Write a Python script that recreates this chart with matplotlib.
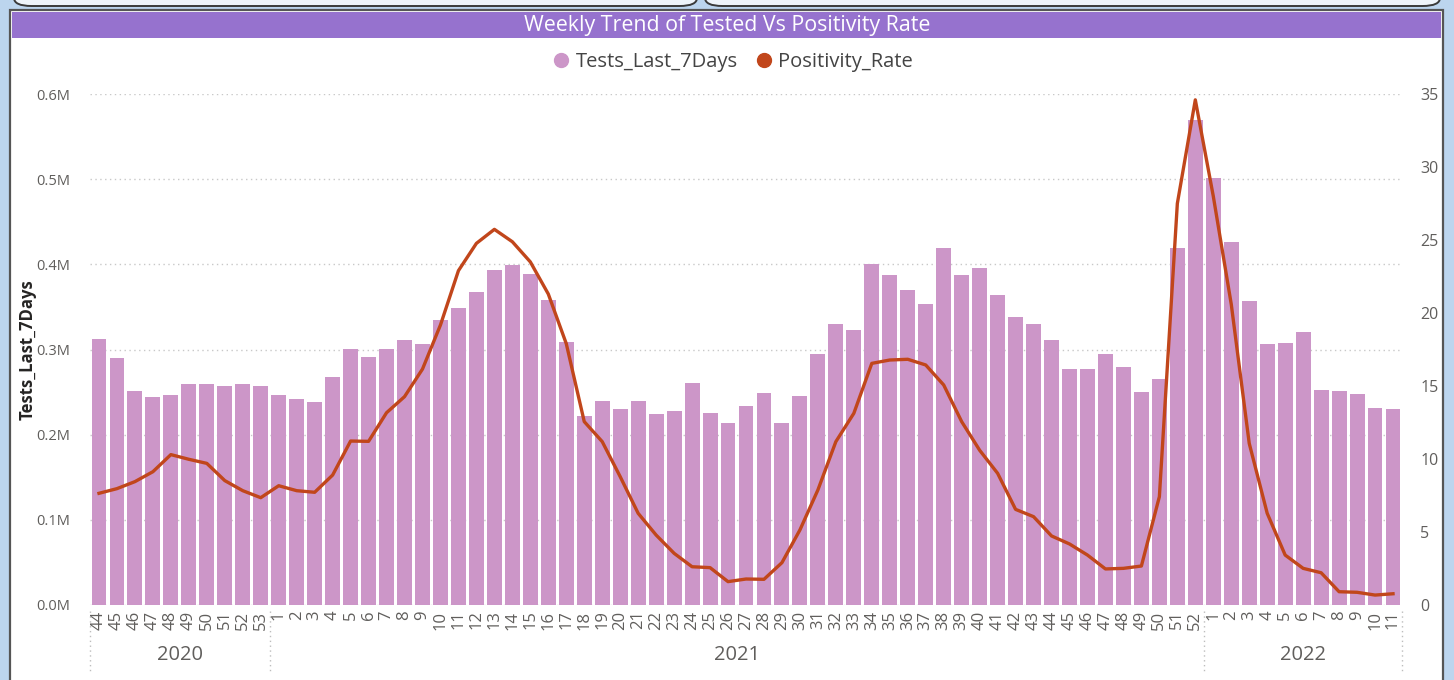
import matplotlib
matplotlib.use("Agg")
import matplotlib.pyplot as plt
import matplotlib.transforms as mtransforms
from matplotlib.patches import FancyBboxPatch, Rectangle
from matplotlib.lines import Line2D
import numpy as np

plt.rcParams['font.family'] = ['Open Sans', 'DejaVu Sans']

# ---------------- data ----------------
years = ["2020", "2021", "2022"]
weeks_2020 = list(range(44, 54))
weeks_2021 = list(range(1, 53))
weeks_2022 = list(range(1, 12))
week_labels = [str(w) for w in weeks_2020 + weeks_2021 + weeks_2022]

tests_2020 = [312, 290, 251, 244, 247, 259, 260, 257, 260, 257]
tests_2021 = [247, 242, 238, 268, 301, 291, 301, 311, 307, 335,
              349, 368, 393, 399, 389, 358, 309, 222, 240, 230,
              240, 224, 228, 261, 225, 214, 234, 249, 214, 245,
              295, 330, 323, 400, 387, 370, 353, 419, 388, 396,
              364, 338, 330, 311, 277, 277, 295, 279, 250, 265,
              419, 569]
tests_2022 = [501, 426, 357, 306, 308, 321, 253, 251, 248, 231, 230]
tests_last_7days = [v * 1000 for v in tests_2020 + tests_2021 + tests_2022]

pos_2020 = [7.65, 7.97, 8.45, 9.13, 10.3, 9.98, 9.70, 8.52, 7.83, 7.35]
pos_2021 = [8.17, 7.83, 7.72, 8.90, 11.23, 11.21, 13.17, 14.27, 16.16, 19.18,
            22.9, 24.77, 25.73, 24.88, 23.5, 21.3, 17.9, 12.56, 11.19, 8.79,
            6.28, 4.79, 3.54, 2.62, 2.56, 1.60, 1.78, 1.76, 2.90, 5.14,
            7.88, 11.19, 13.13, 16.55, 16.78, 16.83, 16.44, 15.07, 12.56, 10.6,
            9.02, 6.55, 6.05, 4.73, 4.18, 3.42, 2.47, 2.51, 2.67, 7.42,
            27.5, 34.6]
pos_2022 = [28.0, 20.6, 11.07, 6.28, 3.42, 2.51, 2.21, 0.91, 0.87, 0.68, 0.77]
positivity_rate = pos_2020 + pos_2021 + pos_2022

left_ticks = [0, 100000, 200000, 300000, 400000, 500000, 600000]
left_tick_labels = ["0.0M", "0.1M", "0.2M", "0.3M", "0.4M", "0.5M", "0.6M"]
right_ticks = [0, 5, 10, 15, 20, 25, 30, 35]

# ---------------- styling ----------------
W, H = 1454, 680
BAR = "#CC96C8"
LINE = "#C1461B"
TXT = "#605E5C"
PURPLE = "#9672CE"

fig = plt.figure(figsize=(W / 100, H / 100), dpi=100)
fig.patch.set_facecolor("#BCD5EE")

def fx(px):
    return px / W

def fy(py):
    return 1 - py / H

# top partial boxes
for x0, x1 in [(14, 697), (705, 1440)]:
    fig.patches.append(FancyBboxPatch((fx(x0), fy(6)), fx(x1 - x0), 30 / H,
                                      boxstyle="round,pad=0,rounding_size=0.012",
                                      transform=fig.transFigure, facecolor="#EEF4FA",
                                      edgecolor="#3A3A3A", linewidth=1.4, zorder=-5))
# main panel
fig.patches.append(Rectangle((fx(10), fy(690)), fx(1433), 680 / H,
                             transform=fig.transFigure, facecolor="white",
                             edgecolor="#555555", linewidth=1.6, zorder=-4))
# title bar
fig.patches.append(Rectangle((fx(12), fy(38)), fx(1429), 26 / H,
                             transform=fig.transFigure, facecolor=PURPLE,
                             edgecolor="none", zorder=-3))
fig.text(0.5, fy(25), "Weekly Trend of Tested Vs Positivity Rate", color="white",
         fontsize=15.4, ha="center", va="center", zorder=3)

# axes
ax = fig.add_axes([fx(90), fy(605), fx(1402 - 90), (605 - 94) / H])
ax.set_facecolor("none")
x = np.arange(len(week_labels))
ax.bar(x, tests_last_7days, width=0.83, color=BAR, zorder=2)
ax.set_xlim(-0.5, len(week_labels) - 0.5)
ax.set_ylim(0, 600000)
ax.set_yticks(left_ticks)
ax.set_yticklabels(left_tick_labels)
ax.set_xticks(x)
ax.set_xticklabels(week_labels, rotation=90, fontsize=12, color=TXT)
ax.tick_params(axis="x", length=0, pad=4)
ax.tick_params(axis="y", length=0, pad=14, labelsize=10.5, labelcolor=TXT)
for s in ax.spines.values():
    s.set_visible(False)
for yv in left_ticks:
    ax.axhline(yv, color="#C8C8C8", linestyle=(0, (1, 2.5)), linewidth=1.0, zorder=1)
ax.set_ylabel("Tests_Last_7Days", fontsize=12, color="#252423", fontweight="bold", labelpad=0)

ax2 = ax.twinx()
ax2.plot(x, positivity_rate, color=LINE, linewidth=2.4, zorder=5, solid_joinstyle="round")
ax2.set_ylim(0, 35)
ax2.set_yticks(right_ticks)
ax2.tick_params(axis="y", length=0, pad=13, labelsize=11.5, labelcolor=TXT)
for s in ax2.spines.values():
    s.set_visible(False)

# year hierarchy
trans = mtransforms.blended_transform_factory(ax.transData, ax.transAxes)
n20, n21 = len(weeks_2020), len(weeks_2021)
bounds = [-0.5, n20 - 0.5, n20 + n21 - 0.5, len(week_labels) - 0.5]
for b in bounds:
    ax.plot([b, b], [-0.012, -0.13], transform=trans, clip_on=False,
            color="#BDBDBD", linestyle=(0, (1, 2.5)), linewidth=1.0)
for i, yr in enumerate(years):
    ax.text((bounds[i] + bounds[i + 1]) / 2, -0.098, yr, transform=trans,
            ha="center", va="center", fontsize=14.5, color=TXT)

# legend
handles = [Line2D([], [], marker="o", linestyle="none", color=BAR, markersize=10),
           Line2D([], [], marker="o", linestyle="none", color=LINE, markersize=10)]
fig.legend(handles, ["Tests_Last_7Days", "Positivity_Rate"], loc="center",
           bbox_to_anchor=(0.5, fy(62)), ncol=2, frameon=False, fontsize=14.5,
           handletextpad=-0.3, columnspacing=0.3, labelcolor="#444444")

fig.savefig("out.png", dpi=100, facecolor=fig.get_facecolor())
